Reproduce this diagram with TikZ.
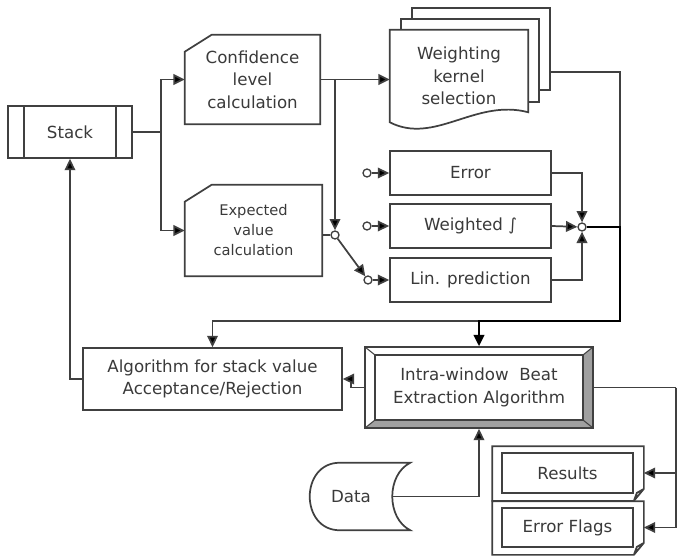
\documentclass[tikz,border=0pt]{standalone}
\usepackage{fontspec}
\setsansfont{DejaVu Sans}
\usepackage{tikz}
\usetikzlibrary{arrows.meta,positioning,backgrounds}
\definecolor{ink}{HTML}{404040}
\definecolor{bevel}{HTML}{A0A0A0}

% outline of a card with a clipped top-left corner
\newcommand{\cardline}[1]{\draw[line] ([shift={(27,0)}]#1.north west) -- (#1.north east) -- (#1.south east) -- (#1.south west) -- ([shift={(0,17)}]#1.north west) -- cycle;}
% outline of a folded frame round an output box
\newcommand{\foldline}[1]{\draw[line] ([shift={(-9,-6)}]#1.north west) -- ([shift={(10,-6)}]#1.north east) -- ([shift={(10,-5)}]#1.south east) -- ([shift={(0,7)}]#1.south east) -- ([shift={(-9,7)}]#1.south west) -- cycle
  ([shift={(0,7)}]#1.south east) -- ([shift={(3,-1)}]#1.south east) -- ([shift={(10,-5)}]#1.south east);}

\begin{document}
\begin{tikzpicture}[x=0.75pt,y=-0.75pt,
  font=\fontsize{12.5}{17}\selectfont\sffamily, text=ink!90!black,
  line/.style={draw=ink,line width=1.3pt},
  box/.style={line,fill=white,align=center,inner sep=2pt},
  card/.style={align=center,inner sep=2pt},
  slot/.style={box,minimum width=120.75pt,minimum height=33.5pt},
  hub/.style={circle,draw=ink,line width=1pt,fill=white,inner sep=0pt,minimum size=6pt},
  arr/.style={-{Triangle[length=8.5pt,width=8pt,fill=black]},line},
  harr/.style={arr,draw=black,line width=1.6pt},
  stackbox/.style={box,minimum width=93pt,minimum height=39pt,
    path picture={\draw[ink,line width=1.3pt]
      ([xshift=12pt]path picture bounding box.north west) -- ([xshift=12pt]path picture bounding box.south west)
      ([xshift=-12pt]path picture bounding box.north east) -- ([xshift=-12pt]path picture bounding box.south east);}},
  bevelbox/.style={box,path picture={
    \path (path picture bounding box.north west) coordinate (bvnw)
      (path picture bounding box.north east) coordinate (bvne)
      (path picture bounding box.south west) coordinate (bvsw)
      (path picture bounding box.south east) coordinate (bvse);
    \fill[bevel] (bvsw) -- (bvse) -- (bvne) -- ([shift={(-7.5pt,-6pt)}]bvne) -- ([shift={(-7.5pt,6pt)}]bvse) -- ([shift={(7.5pt,6pt)}]bvsw) -- cycle;
    \draw[ink,line width=1pt] ([shift={(7.5pt,-6pt)}]bvnw) rectangle ([shift={(-7.5pt,6pt)}]bvse);
    \draw[ink,line width=0.8pt] (bvnw) -- ([shift={(7.5pt,-6pt)}]bvnw) (bvne) -- ([shift={(-7.5pt,-6pt)}]bvne)
      (bvsw) -- ([shift={(7.5pt,6pt)}]bvsw) (bvse) -- ([shift={(-7.5pt,6pt)}]bvse);}},
]
\useasboundingbox (0,0) rectangle (678,556);

% left column
\node[stackbox] (stack) at (70,132) {Stack};
\node[card,minimum width=101.25pt,minimum height=66.75pt] (conf) at (252.5,79.5) {Confidence\\level\\calculation};
\cardline{conf}
\node[card,font=\fontsize{11}{15}\selectfont\sffamily,minimum width=102.75pt,minimum height=68.25pt] (expect) at (253.5,230.5) {Expected\\value\\calculation};
\cardline{expect}

% kernel pages
\node[card,minimum width=103.5pt,minimum height=69pt] (kernel) at (459,76) {Weighting\\kernel\\selection};
\begin{scope}[on background layer]
\draw[line,fill=white] ([shift={(22,-22)}]kernel.north west) rectangle ([shift={(22,-32)}]kernel.south east);
\draw[line,fill=white] ([shift={(11,-11)}]kernel.north west) rectangle ([shift={(11,-20)}]kernel.south east);
\draw[line,fill=white] (kernel.north west) -- (kernel.north east) -- ([shift={(0,-10)}]kernel.south east)
  .. controls ([shift={(-53,-24)}]kernel.south east) and ([shift={(45,23)}]kernel.south west) .. (kernel.south west) -- cycle;
\end{scope}

% estimators
\node[slot] (err) at (470.5,173) {Error};
\node[slot] (wgt) at (470.5,226) {Weighted ∫};
\node[slot] (lin) at (470.5,280) {Lin. prediction};
\node[hub] (errin) at (367,173) {};
\node[hub] (wgtin) at (367,226) {};
\node[hub] (linin) at (368,280) {};
\node[hub] (sw) at (335,235) {};
\node[hub] (jn) at (582,227) {};

% lower part
\node[box,minimum width=194.25pt,minimum height=46.5pt] (algo) at (212.5,379) {Algorithm for stack value\\Acceptance/Rejection};
\node[bevelbox,minimum width=171pt,minimum height=60.75pt] (intra) at (479,387.5) {Intra-window\ \ Beat\\Extraction Algorithm};
\node[box,minimum width=98.25pt,minimum height=30pt] (res) at (567.5,473) {Results};
\foldline{res}
\node[box,minimum width=98.25pt,minimum height=29.25pt] (flags) at (567.5,527.5) {Error Flags};
\foldline{flags}
\node[card,minimum width=61.5pt,minimum height=50.25pt] (data) at (351,496.5) {Data};
\draw[line] ([shift={(30,0)}]data.north west) -- ([shift={(18,0)}]data.north east)
  .. controls ([shift={(-6,12)}]data.north east) and ([shift={(-6,-12)}]data.south east) .. ([shift={(18,0)}]data.south east)
  -- ([shift={(30,0)}]data.south west)
  .. controls ([shift={(-10,0)}]data.south west) and ([shift={(-10,0)}]data.north west) .. cycle;

\coordinate (bus) at (620,321);
\coordinate (rail) at (676,387.5);

% connectors
\draw[arr] (stack.east) -- ++(28,0) |- (conf.west);
\draw[arr] (stack.east) -- ++(28,0) |- (expect.west);
\draw[arr] (conf.east) -- (conf.east -| kernel.west);
\draw[arr] (conf.east) -| (sw);
\draw[line] (expect.east |- sw) -- (sw);
\draw[arr] (sw) -- (linin);
\draw[arr] (errin) -- (err.west);
\draw[arr] (wgtin) -- (wgt.west);
\draw[arr] (linin) -- (lin.west);
\draw[arr] (err.east) -| (jn);
\draw[arr] (wgt.east) -- (jn);
\draw[arr] (lin.east) -| (jn);
\draw[line] ([shift={(22,-4)}]kernel.east) -| (bus);
\draw[arr] (bus) -| (algo.north);
\draw[harr] (jn) -| (bus) -| (intra.north);
\draw[arr] (intra.west) -- ++(-13,0) |- (algo.east);
\draw[arr] (algo.west) -| (stack.south);
\draw[arr] (data.east) -| (intra.south);
\draw[line] (intra.east) -- (rail);
\draw[arr] (rail) |- ([xshift=7.5pt]res.east);
\draw[arr] (rail) |- ([xshift=7.5pt]flags.east);
\end{tikzpicture}
\end{document}
